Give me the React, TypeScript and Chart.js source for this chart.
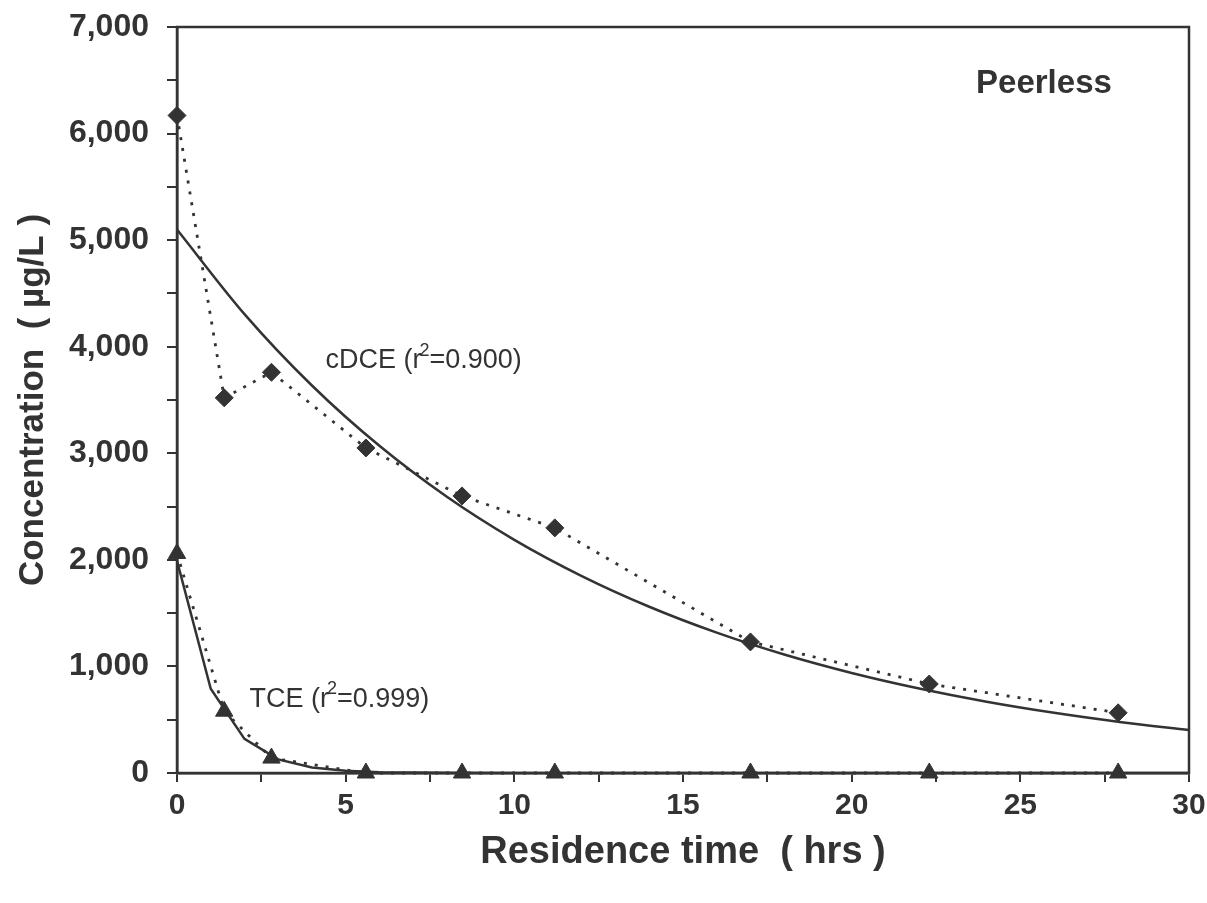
import React, { useEffect, useRef } from "react";
import { Chart, registerables } from "chart.js";

Chart.register(...registerables);

// Measured data (residence time in hrs, concentration in µg/L)
const timeHrs = [0, 1.4, 2.8, 5.6, 8.45, 11.2, 17, 22.3, 27.9];
const cdceConc = [6170, 3520, 3760, 3050, 2600, 2300, 1230, 835, 565];
const tceConc = [2060, 580, 140, 0, 0, 0, 0, 0, 0];

// Fitted curves
const cdceFitTime = [0, 2, 4, 6, 8, 10, 12, 14, 16, 18, 20, 22, 24, 26, 28, 30];
const cdceFitConc = [5100, 4306, 3636, 3070, 2592, 2188, 1848, 1560, 1317, 1112, 939, 793, 669, 565, 477, 403];
const tceFitTime = [0, 1, 2, 3, 4, 5, 6, 8, 10, 30];
const tceFitConc = [1990, 790, 320, 128, 52, 20, 8, 2, 0, 0];

const xTickLabels = ["0", "5", "10", "15", "20", "25", "30"];
const yTickLabels = ["0", "1,000", "2,000", "3,000", "4,000", "5,000", "6,000", "7,000"];

const labelCdce = { x: 4.4, y: 3870, main: "cDCE (r", sup: "2", rest: "=0.900)" };
const labelTce = { x: 2.15, y: 690, main: "TCE (r", sup: "2", rest: "=0.999)" };
const labelSite = { x: 25.7, y: 6470, text: "Peerless" };

const INK = "#333333";
const FONT = "'Liberation Sans', Arial, sans-serif";

const toPts = (xs: number[], ys: number[]) => xs.map((x, i) => ({ x, y: ys[i] }));

export default function App() {
  const ref = useRef<HTMLCanvasElement | null>(null);

  useEffect(() => {
    document.body.style.margin = "0";
    const canvas = ref.current;
    if (!canvas) return;

    const framePlugin = {
      id: "frameAndText",
      afterDatasetsDraw(chart: any) {
        const { ctx, chartArea, scales } = chart;
        ctx.save();
        ctx.strokeStyle = INK;
        ctx.lineWidth = 2.5;
        ctx.strokeRect(chartArea.left, chartArea.top, chartArea.right - chartArea.left, chartArea.bottom - chartArea.top);

        const drawSup = (l: any) => {
          const px = scales.x.getPixelForValue(l.x);
          const py = scales.y.getPixelForValue(l.y);
          ctx.fillStyle = INK;
          ctx.textBaseline = "middle";
          ctx.textAlign = "left";
          ctx.font = `27px ${FONT}`;
          ctx.fillText(l.main, px, py);
          const w = ctx.measureText(l.main).width;
          ctx.font = `18px ${FONT}`;
          ctx.fillText(l.sup, px + w - 2, py - 10);
          const ws = ctx.measureText(l.sup).width;
          ctx.font = `27px ${FONT}`;
          ctx.fillText(l.rest, px + w + ws - 2, py);
        };
        drawSup(labelCdce);
        drawSup(labelTce);

        ctx.font = `bold 33px ${FONT}`;
        ctx.textAlign = "center";
        ctx.textBaseline = "middle";
        ctx.fillText(labelSite.text, scales.x.getPixelForValue(labelSite.x), scales.y.getPixelForValue(labelSite.y));
        ctx.restore();
      },
    };

    const chart = new Chart(canvas, {
      type: "scatter",
      data: {
        datasets: [
          {
            label: "cDCE fit",
            data: toPts(cdceFitTime, cdceFitConc),
            showLine: true,
            borderColor: INK,
            borderWidth: 2.5,
            pointRadius: 0,
            cubicInterpolationMode: "monotone",
          },
          {
            label: "cDCE",
            data: toPts(timeHrs, cdceConc),
            showLine: true,
            borderColor: INK,
            borderWidth: 2.8,
            borderDash: [3, 8],
            pointStyle: "rectRot",
            pointRadius: 9,
            pointBackgroundColor: INK,
            pointBorderColor: INK,
            pointBorderWidth: 1,
            clip: false,
          },
          {
            label: "TCE fit",
            data: toPts(tceFitTime, tceFitConc),
            showLine: true,
            borderColor: INK,
            borderWidth: 2.5,
            pointRadius: 0,
          },
          {
            label: "TCE",
            data: toPts(timeHrs, tceConc),
            showLine: true,
            borderColor: INK,
            borderWidth: 2.8,
            borderDash: [3, 8],
            pointStyle: "triangle",
            pointRadius: 10,
            pointBackgroundColor: INK,
            pointBorderColor: INK,
            pointBorderWidth: 1,
            clip: false,
          },
        ],
      },
      options: {
        animation: false,
        responsive: false,
        layout: { padding: { top: 27, right: 18, left: 0, bottom: 0 } },
        plugins: { legend: { display: false }, tooltip: { enabled: false } },
        scales: {
          x: {
            type: "linear",
            min: 0,
            max: 30,
            afterFit: (s: any) => {
              s.height = 130;
              s.paddingLeft = 0;
              s.paddingRight = 0;
            },
            ticks: {
              stepSize: 2.5,
              color: INK,
              padding: 6,
              maxRotation: 0,
              font: { family: FONT, size: 30, weight: "bold" },
              callback: (v: any) => (Number(v) % 5 === 0 ? xTickLabels[Number(v) / 5] : ""),
            },
            grid: { display: true, drawOnChartArea: false, drawTicks: true, tickLength: 9, color: INK, lineWidth: 2 },
            border: { display: true, color: INK, width: 2.5 },
            title: {
              display: true,
              text: "Residence time  ( hrs )",
              color: INK,
              font: { family: FONT, size: 38, weight: "bold" },
              padding: { top: 0, bottom: 28 },
            },
          },
          y: {
            type: "linear",
            min: 0,
            max: 7000,
            afterFit: (s: any) => {
              s.width = 177;
              s.paddingTop = 0;
              s.paddingBottom = 0;
            },
            ticks: {
              stepSize: 500,
              color: INK,
              padding: 18,
              font: { family: FONT, size: 32, weight: "bold" },
              callback: (v: any) => (Number(v) % 1000 === 0 ? yTickLabels[Number(v) / 1000] : ""),
            },
            grid: { display: true, drawOnChartArea: false, drawTicks: true, tickLength: 10, color: INK, lineWidth: 2 },
            border: { display: true, color: INK, width: 2.5 },
            title: {
              display: true,
              text: "Concentration  ( µg/L )",
              color: INK,
              font: { family: FONT, size: 35, weight: "bold" },
              padding: { top: 12, bottom: 0 },
            },
          },
        },
      },
      plugins: [framePlugin],
    } as any);

    return () => chart.destroy();
  }, []);

  return (
    <div style={{ width: 1207, height: 903, background: "#ffffff" }}>
      <canvas ref={ref} width={1207} height={903} style={{ display: "block" }} />
    </div>
  );
}
